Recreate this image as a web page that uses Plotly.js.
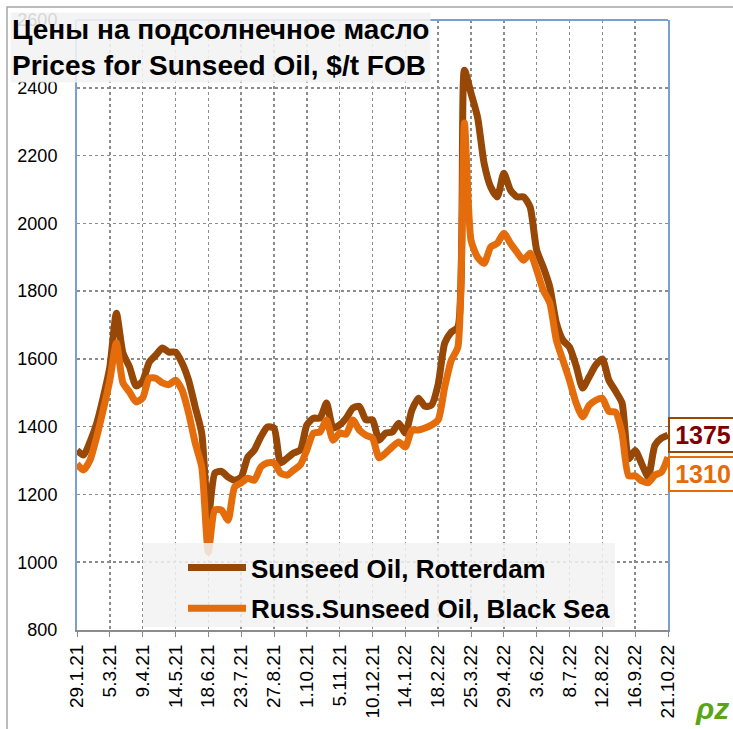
<!DOCTYPE html>
<html>
<head>
<meta charset="utf-8">
<script src="https://cdn.plot.ly/plotly-3.0.1.min.js"></script>
<style>
  html, body { margin: 0; padding: 0; background: #ffffff; }
  #chart { width: 733px; height: 729px; }
</style>
</head>
<body>
<div id="chart"></div>
<script>
// Tick labels (every 5th weekly observation)
const tickLabels = ["29.1.21","5.3.21","9.4.21","14.5.21","18.6.21","23.7.21","27.8.21","1.10.21","5.11.21",
  "10.12.21","14.1.22","18.2.22","25.3.22","29.4.22","3.6.22","8.7.22","12.8.22","16.9.22","21.10.22"];

// Sunseed Oil, Rotterdam ($/t FOB), weekly
const rotterdam = [1330,1316,1356,1410,1487,1576,1735,1617,1576,1520,
  1535,1590,1611,1632,1620,1620,1588,1537,1458,1380,
  1130,1263,1268,1251,1242,1251,1310,1331,1370,1399,
  1396,1293,1307,1322,1331,1405,1425,1425,1470,1396,
  1405,1425,1455,1460,1420,1420,1360,1381,1384,1410,
  1381,1449,1484,1460,1464,1525,1647,1679,1694,2452,
  2384,2313,2177,2107,2078,2148,2098,2078,2078,2048,
  1921,1871,1812,1706,1655,1635,1580,1514,1547,1582,
  1600,1537,1505,1470,1305,1330,1290,1252,1345,1366,1375];

// Russ. Sunseed Oil, Black Sea ($/t FOB), weekly
const blackSea = [1290,1272,1302,1370,1450,1537,1647,1529,1502,1473,
  1485,1543,1543,1529,1524,1537,1508,1440,1352,1281,
  1030,1154,1154,1124,1222,1234,1248,1242,1281,1293,
  1293,1263,1257,1272,1287,1331,1381,1384,1420,1360,
  1381,1378,1420,1390,1375,1366,1308,1322,1340,1355,
  1340,1390,1390,1396,1405,1420,1517,1596,1635,2296,
  1950,1900,1882,1930,1941,1971,1941,1915,1891,1912,
  1862,1803,1765,1655,1596,1537,1470,1429,1463,1478,
  1484,1445,1443,1381,1255,1255,1240,1235,1257,1266,1310];

const names = ["Sunseed Oil, Rotterdam", "Russ.Sunseed Oil, Black Sea"];
const colors = ["#974706", "#E46C0A"];

const xIdx = rotterdam.map((_, i) => i);
const tickVals = tickLabels.map((_, k) => k * 5);

const FONT = "Arial, 'Liberation Sans', sans-serif";

const traces = [
  { x: xIdx, y: rotterdam, name: names[0], type: "scatter", mode: "lines",
    line: { color: colors[0], width: 7, shape: "spline", smoothing: 0.6 }, legendgroup: "a" },
  { x: xIdx, y: blackSea, name: names[1], type: "scatter", mode: "lines",
    line: { color: colors[1], width: 7, shape: "spline", smoothing: 0.6 }, legendgroup: "b" }
];

// pixel -> paper helpers (plot area: x 77..668, y 20..630)
const L = 77, R = 668, T = 20, B = 630;
const px = v => (v - L) / (R - L);
const py = v => (B - v) / (B - T);

const lastR = rotterdam[rotterdam.length - 1];
const lastB = blackSea[blackSea.length - 1];

const layout = {
  width: 733, height: 729,
  margin: { l: L, r: 733 - R, t: T, b: 729 - B },
  paper_bgcolor: "#ffffff", plot_bgcolor: "#ffffff",
  font: { family: FONT, color: "#000000", size: 18 },
  showlegend: true,
  legend: {
    x: px(183), xanchor: "left", y: py(544), yanchor: "top",
    bgcolor: "rgba(0,0,0,0)", borderwidth: 0,
    font: { family: FONT, size: 26, color: "#000000", weight: "bold" },
    itemwidth: 58, tracegroupgap: 4
  },
  xaxis: {
    range: [0, rotterdam.length - 1],
    tickmode: "array", tickvals: tickVals, ticktext: tickLabels,
    tickangle: -90, tickfont: { size: 19, family: FONT, color: "#000000" },
    ticks: "outside", ticklen: 5, tickcolor: "#888888",
    showgrid: true, gridcolor: "#8c8c8c", griddash: "dot", gridwidth: 1.5,
    showline: true, linecolor: "#8c8c8c", linewidth: 2,
    zeroline: false, fixedrange: true
  },
  yaxis: {
    range: [800, 2600], dtick: 200, tick0: 800,
    tickfont: { size: 18, family: FONT, color: "#000000" },
    ticks: "", ticklabelstandoff: 14,
    showgrid: true, gridcolor: "#8c8c8c", griddash: "dot", gridwidth: 1.5,
    showline: true, linecolor: "#7a9fd0", linewidth: 2, mirror: true,
    zeroline: false, fixedrange: true
  },
  shapes: [
    // outer chart frame
    { type: "rect", xref: "paper", yref: "paper", x0: px(7), x1: px(760), y0: py(760), y1: py(7),
      line: { color: "#a6a6a6", width: 1.5 }, fillcolor: "rgba(0,0,0,0)", layer: "below" },
    // top border of plot area
    { type: "line", xref: "paper", yref: "paper", x0: 0, x1: 1, y0: 1, y1: 1,
      line: { color: "#7a9fd0", width: 2 } },
    // legend background
    { type: "rect", xref: "paper", yref: "paper", x0: px(143), x1: px(615), y0: py(627), y1: py(543),
      line: { width: 0 }, fillcolor: "rgba(242,242,242,0.85)", layer: "above" }
  ],
  annotations: [
    { xref: "paper", yref: "paper", x: px(10), y: py(12), xanchor: "left", yanchor: "top",
      align: "left", showarrow: false,
      text: "<b>Цены на подсолнечное масло<br>Prices for Sunseed Oil, $/t FOB</b>",
      font: { family: FONT, size: 28, color: "#000000" },
      bgcolor: "rgba(242,242,242,0.88)", borderpad: 1 },
    { xref: "paper", yref: "y", x: 1, y: lastR, xanchor: "left", yanchor: "middle",
      showarrow: false, text: "<b>" + lastR + "</b>",
      font: { family: FONT, size: 25, color: "#800000" },
      bgcolor: "#ffffff", bordercolor: colors[0], borderwidth: 2, borderpad: 2, width: 62 },
    { xref: "paper", yref: "y", x: 1, y: lastB, yshift: -17, xanchor: "left", yanchor: "middle",
      showarrow: false, text: "<b>" + lastB + "</b>",
      font: { family: FONT, size: 25, color: colors[1] },
      bgcolor: "#ffffff", bordercolor: colors[1], borderwidth: 2, borderpad: 2, width: 62 },
    { xref: "paper", yref: "paper", x: px(731), y: py(727), xanchor: "right", yanchor: "bottom",
      showarrow: false, text: "<b><i>ρz</i></b>",
      font: { family: FONT, size: 30, color: "#5aa516" } }
  ]
};

Plotly.newPlot("chart", traces, layout, { displayModeBar: false, staticPlot: true });
</script>
</body>
</html>
